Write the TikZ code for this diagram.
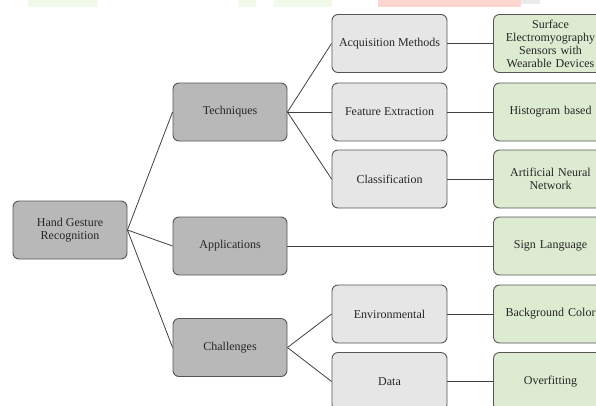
\documentclass[tikz,border=0pt]{standalone}
\usepackage{fontspec}
\setmainfont{Liberation Serif}
\definecolor{rootgray}{HTML}{B8B8B8}
\definecolor{midgray}{HTML}{E6E6E6}
\definecolor{leafgreen}{HTML}{DDEBD1}
\definecolor{edgegray}{HTML}{555555}
\definecolor{markgreen}{HTML}{F0F9EA}
\definecolor{markpink}{HTML}{FCD6CF}
\begin{document}
\begin{tikzpicture}[x = 1pt, y = -1pt,
        every node/.style = {font = \fontsize{12}{13}\selectfont, text = black!85},
        every text node part/.style = {align = center},
        box/.style = {draw = edgegray, rounded corners = 6pt, line width = 0.9pt,
            minimum width = 114pt, minimum height = 58pt, inner sep = 2pt},
        topbox/.style = {box, fill = rootgray},
        midbox/.style = {box, fill = midgray, minimum width = 115pt},
        leafbox/.style = {box, fill = leafgreen, text width = 110pt},
        link/.style = {draw = black!75, line width = 0.8pt}]
    \useasboundingbox (0, 0) rectangle (596, 405);
        % faint band along the top edge
        \fill[markgreen] (28, 0) rectangle (98, 7);
        \fill[markgreen] (238, 0) rectangle (256, 7);
        \fill[markgreen] (274, 0) rectangle (332, 7);
        \fill[markpink] (378, 0) rectangle (521, 7);
        \fill[black!8] (521, 0) rectangle (540, 4);
        % root and first level
        \node[topbox] (hgr) at (70, 230) {Hand Gesture \\ Recognition};
        \node[topbox] (tech) at (230, 112) {Techniques};
        \node[topbox] (appl) at (230, 246) {Applications};
        \node[topbox] (chal) at (230, 347.5) {Challenges};
            % second level
            \node[midbox] (acq) at (389.5, 43.5) {Acquisition Methods};
            \node[midbox] (feat) at (389.5, 112) {Feature Extraction};
            \node[midbox] (clas) at (389.5, 179) {Classification};
            \node[midbox] (env) at (389.5, 314) {Environmental};
            \node[midbox] (data) at (389.5, 381.5) {Data};
                % leaves
                \node[leafbox] (semg) at (550.5, 43.5) {Surface \\ Electromyography \\ Sensors with \\ Wearable Devices};
                \node[leafbox] (hist) at (550.5, 112) {Histogram based};
                \node[leafbox] (ann) at (550.5, 179) {Artificial Neural \\ Network};
                \node[leafbox] (sign) at (550.5, 246) {Sign Language};
                \node[leafbox] (bgcol) at (550.5, 314) {Background Color};
                \node[leafbox] (over) at (550.5, 381.5) {Overfitting};
        % connectors
        \draw[link] (hgr.east) -- (tech.west);
        \draw[link] (hgr.east) -- (appl.west);
        \draw[link] (hgr.east) -- (chal.west);
        \draw[link] (tech.east) -- (acq.west);
        \draw[link] (tech.east) -- (feat.west);
        \draw[link] (tech.east) -- (clas.west);
        \draw[link] (chal.east) -- (env.west);
        \draw[link] (chal.east) -- (data.west);
        \draw[link] (appl.east) -- (sign.west);
        \draw[link] (acq) -- (semg);
        \draw[link] (feat) -- (hist);
        \draw[link] (clas) -- (ann);
        \draw[link] (env) -- (bgcol);
        \draw[link] (data) -- (over);
\end{tikzpicture}
\end{document}
